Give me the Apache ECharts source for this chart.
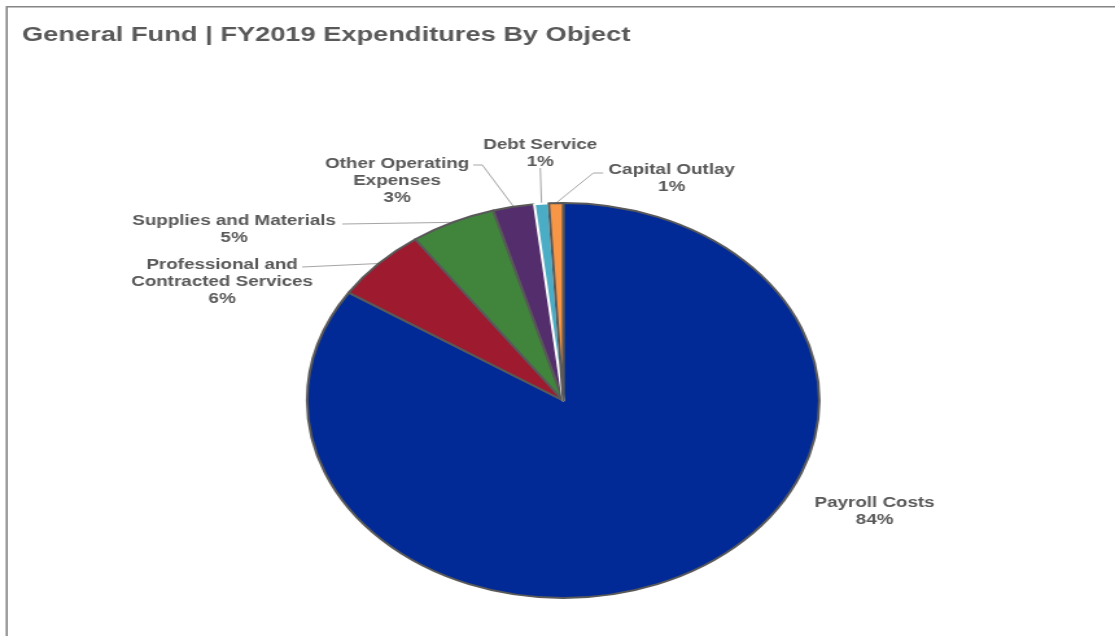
<!DOCTYPE html>
<html>
<head>
<meta charset="utf-8">
<title>General Fund | FY2019 Expenditures By Object</title>
<script src="https://cdn.jsdelivr.net/npm/echarts@6/dist/echarts.min.js"></script>
<style>
  html, body { margin: 0; padding: 0; background: #fff; width: 1115px; height: 636px; overflow: hidden; }
  /* the chart is laid out narrower and widened, so the pie becomes an ellipse */
  #chart { width: 860px; height: 636px; transform: scaleX(1.2965); transform-origin: 0 0; }
</style>
</head>
<body>
<div id="chart"></div>
<script>
// Expenditure objects, in the order they run clockwise from 12 o'clock
const categories = [
  'Payroll Costs',
  'Professional and\nContracted Services',
  'Supplies and Materials',
  'Other Operating\nExpenses',
  'Debt Service',
  'Capital Outlay'
];
// Share of FY2019 General Fund expenditures (percent)
const shares = [84.2, 6.0, 5.4, 2.6, 0.9, 0.9];

// Slice fills
const sliceColors = ['#012A96', '#9D1A2F', '#41853D', '#542D6D', '#4AACC5', '#F79646'];

// Label centres (layout pixels) and bends of the leader lines from the label back to the slice
const labelSpots = [[674.6, 511], [171.3, 281.5], [180.6, 229.5], [306.3, 181], [416.7, 153], [518.1, 178.5]];
const leaderBends = [
  null,
  [[233, 267]],
  [[264, 224]],
  [[372, 165], [365, 165]],
  [[416.7, 168]],
  [[457.6, 173], [465.3, 173]]
];

const textColor = '#595959';
const fontFamily = '"Liberation Sans", Arial, Helvetica, sans-serif';

const chart = echarts.init(document.getElementById('chart'), null, { renderer: 'canvas' });

const pieData = categories.map((name, i) => {
  const item = { name: name, value: shares[i], itemStyle: { color: sliceColors[i] } };
  if (name === 'Debt Service') item.itemStyle.borderColor = '#ffffff';
  if (i === 0) item.labelLine = { show: false };
  return item;
});

chart.setOption({
  animation: false,
  backgroundColor: '#ffffff',
  title: {
    text: 'General Fund | FY2019 Expenditures By Object',
    left: 17,
    top: 25,
    padding: 0,
    textStyle: { color: textColor, fontSize: 21, fontWeight: 'bold', fontFamily: fontFamily }
  },
  graphic: [{
    type: 'rect',
    silent: true,
    shape: { x: 5.2, y: 6.7, width: 3000, height: 3000 },
    style: { fill: 'none', stroke: '#858585', lineWidth: 1.6 }
  }],
  series: [{
    type: 'pie',
    center: [434.4, 400.5],
    radius: 197.5,
    startAngle: 90,
    clockwise: true,
    percentPrecision: 0,
    avoidLabelOverlap: false,
    data: pieData,
    itemStyle: { borderColor: '#595959', borderWidth: 2 },
    label: {
      show: true,
      position: 'outside',
      formatter: '{b}\n{d}%',
      color: textColor,
      fontSize: 14.5,
      fontWeight: 'bold',
      fontFamily: fontFamily,
      lineHeight: 17,
      align: 'center'
    },
    labelLine: { show: true, lineStyle: { color: '#A6A6A6', width: 1 } },
    labelLayout: function (params) {
      const i = params.dataIndex;
      const spot = labelSpots[i];
      const out = { x: spot[0], y: spot[1], align: 'center', verticalAlign: 'middle' };
      if (leaderBends[i] && params.labelLinePoints) {
        const pts = [params.labelLinePoints[0]].concat(leaderBends[i]);
        while (pts.length < 3) pts.push(pts[pts.length - 1]);
        out.labelLinePoints = pts;
      }
      return out;
    },
    emphasis: { disabled: true }
  }]
});
</script>
</body>
</html>
